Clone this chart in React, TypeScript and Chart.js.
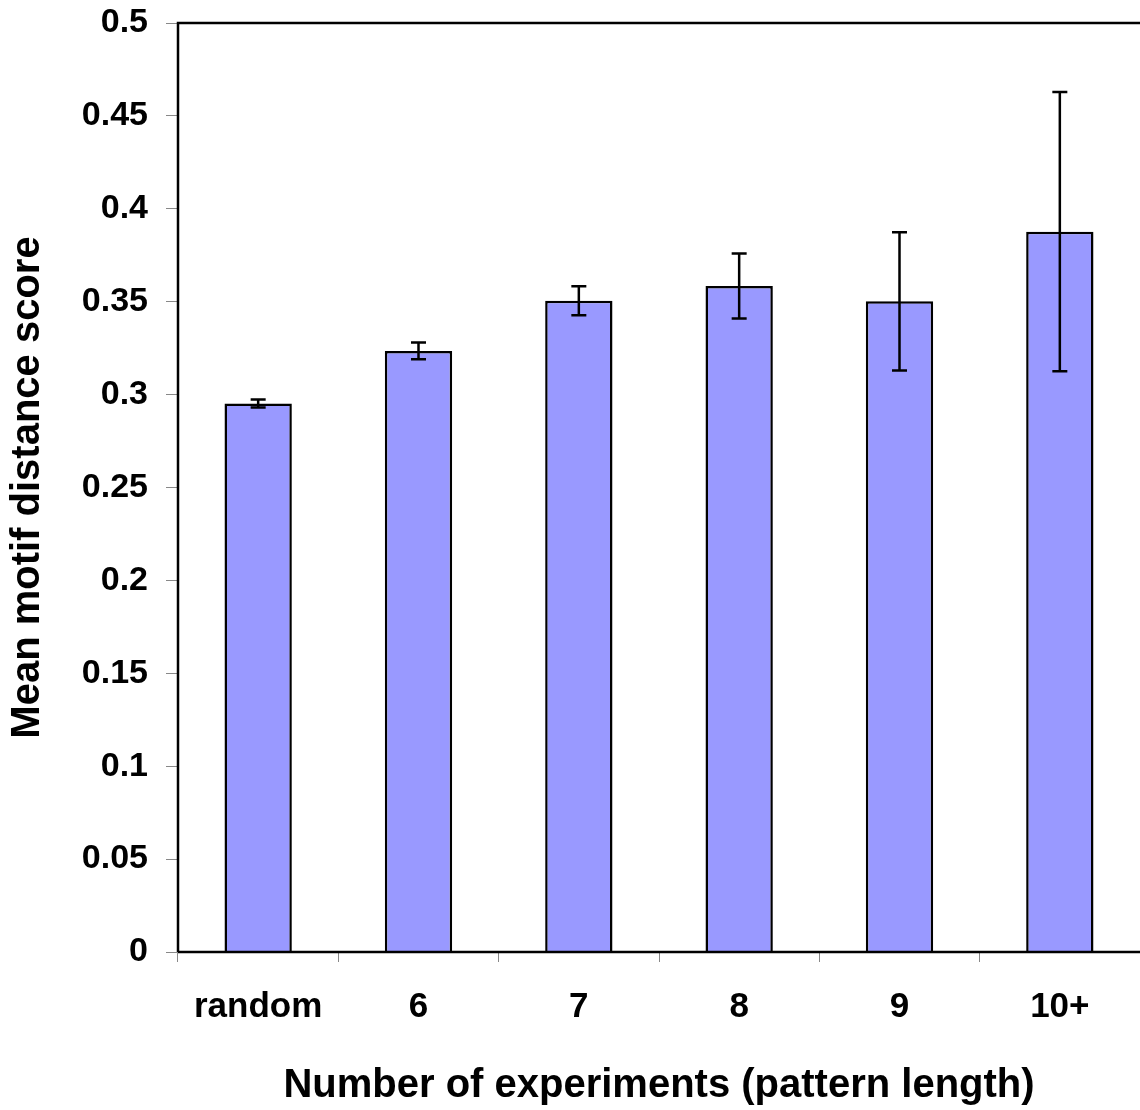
import React, { useEffect, useRef } from "react";
import { Chart, registerables } from "chart.js";

Chart.register(...registerables);

const categories = ["random", "6", "7", "8", "9", "10+"];
const meanScores = [0.2952, 0.3235, 0.3505, 0.3585, 0.3502, 0.3877];
const errorSizes = [0.0022, 0.0045, 0.0078, 0.0175, 0.0372, 0.0751];
const yTicks = [0, 0.05, 0.1, 0.15, 0.2, 0.25, 0.3, 0.35, 0.4, 0.45, 0.5];

const FONT = "'Liberation Sans', Arial, sans-serif";

const errorBarPlugin = {
  id: "errorBars",
  afterDatasetsDraw(chart: any) {
    const { ctx } = chart;
    const meta = chart.getDatasetMeta(0);
    const yScale = chart.scales.y;
    ctx.save();
    ctx.strokeStyle = "#000";
    ctx.lineWidth = 2.5;
    meta.data.forEach((bar: any, i: number) => {
      const v = meanScores[i];
      const e = errorSizes[i];
      const yTop = yScale.getPixelForValue(v + e);
      const yBot = yScale.getPixelForValue(v - e);
      const x = bar.x;
      const cap = 7.5;
      ctx.beginPath();
      ctx.moveTo(x, yTop);
      ctx.lineTo(x, yBot);
      ctx.moveTo(x - cap, yTop);
      ctx.lineTo(x + cap, yTop);
      ctx.moveTo(x - cap, yBot);
      ctx.lineTo(x + cap, yBot);
      ctx.stroke();
    });
    ctx.restore();
  },
};

const frameBorderPlugin = {
  id: "frameBorder",
  afterDraw(chart: any) {
    const { ctx, chartArea } = chart;
    ctx.save();
    ctx.strokeStyle = "#000";
    ctx.lineWidth = 2.5;
    ctx.beginPath();
    ctx.moveTo(chartArea.left, chartArea.bottom);
    ctx.lineTo(chartArea.left, chartArea.top);
    ctx.lineTo(chartArea.right + 5, chartArea.top);
    ctx.moveTo(chartArea.left, chartArea.bottom);
    ctx.lineTo(chartArea.right + 5, chartArea.bottom);
    ctx.stroke();
    ctx.restore();
  },
};

export default function App() {
  const canvasRef = useRef<HTMLCanvasElement | null>(null);

  useEffect(() => {
    if (!canvasRef.current) return;
    const chart = new Chart(canvasRef.current, {
      type: "bar",
      data: {
        labels: categories,
        datasets: [
          {
            data: meanScores,
            backgroundColor: "#9999ff",
            borderColor: "#000",
            borderWidth: 2.5,
            categoryPercentage: 0.42,
            barPercentage: 1.0,
          },
        ],
      },
      options: {
        animation: false,
        responsive: false,
        maintainAspectRatio: false,
        layout: { padding: { top: 23, right: 0, left: 0, bottom: 0 } },
        plugins: {
          legend: { display: false },
          tooltip: { enabled: false },
        },
        scales: {
          x: {
            grid: {
              display: true,
              drawOnChartArea: false,
              drawTicks: true,
              tickLength: 10,
              color: "#888",
              offset: true,
            },
            border: { display: false },
            ticks: {
              color: "#000",
              font: { family: FONT, size: 35, weight: "bold" },
              padding: 24,
              maxRotation: 0,
            },
            title: {
              display: true,
              text: "Number of experiments (pattern length)",
              color: "#000",
              font: { family: FONT, size: 40, weight: "bold" },
              padding: { top: 0, bottom: 0 },
            },
            afterFit(scale: any) {
              scale.height = 158;
              scale.paddingLeft = 0;
              scale.paddingRight = 0;
            },
          },
          y: {
            min: 0,
            max: 0.5,
            afterBuildTicks(scale: any) {
              scale.ticks = yTicks.map((v) => ({ value: v }));
            },
            grid: {
              display: true,
              drawOnChartArea: false,
              drawTicks: true,
              tickLength: 12,
              color: "#888",
            },
            border: { display: false },
            ticks: {
              color: "#000",
              font: { family: FONT, size: 34, weight: "bold" },
              padding: 18,
              callback: (v: any) => String(Number(v)),
            },
            title: {
              display: true,
              text: "Mean motif distance score",
              color: "#000",
              font: { family: FONT, size: 40, weight: "bold" },
              padding: { top: 4, bottom: 0 },
            },
            afterFit(scale: any) {
              scale.width = 178;
              scale.paddingTop = 0;
              scale.paddingBottom = 0;
            },
          },
        },
      },
      plugins: [errorBarPlugin, frameBorderPlugin],
    });
    return () => chart.destroy();
  }, []);

  return (
    <div style={{ position: "fixed", left: 0, top: 0, width: 1140, height: 1110, background: "#fff" }}>
      <canvas ref={canvasRef} width={1140} height={1110} style={{ display: "block" }} />
    </div>
  );
}
